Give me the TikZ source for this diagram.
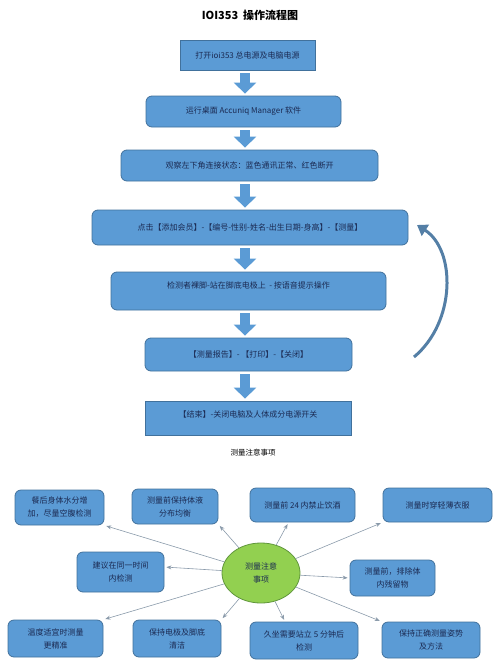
\documentclass[tikz,border=0pt]{standalone}
\usepackage{fontspec}
\setmainfont{Noto Sans CJK SC}
\usetikzlibrary{arrows.meta,shapes.geometric}

\definecolor{boxblue}{RGB}{91,155,213}
\definecolor{boxline}{RGB}{65,113,156}
\definecolor{boxtext}{RGB}{27,42,82}
\definecolor{noteline}{RGB}{138,154,170}
\definecolor{ovalgreen}{RGB}{146,208,80}
\definecolor{ovalline}{RGB}{96,150,60}

\tikzset{
  flowbox/.style={draw=boxline,fill=boxblue,line width=0.8pt,text=boxtext,
    font=\fontsize{8}{9}\selectfont,align=center,inner sep=2pt},
  roundbox/.style={flowbox,rounded corners=6pt},
  notebox/.style={roundbox,font=\fontsize{8}{13}\selectfont},
  downarrow/.style={draw=boxblue,line width=10pt,shorten <=3pt,shorten >=2pt,
    -{Triangle[width=22pt,length=11pt]}},
  notearrow/.style={noteline,line width=0.6pt,shorten >=2pt,-{Stealth[length=5pt,width=4pt]}}
}

\begin{document}
\begin{tikzpicture}[x=1pt,y=-1pt]
          \useasboundingbox (0,0) rectangle (500,672);
          \node[font=\bfseries\fontsize{11}{13}\selectfont] (title) at (250,15) {IOI353\ \ 操作流程图};
          % flow
          \node[flowbox,minimum width=135,minimum height=30] (open) at (247.5,55) {打开ioi353 总电源及电脑电源};
          \node[roundbox,minimum width=195,minimum height=31] (run) at (243.5,111.5) {运行桌面 Accuniq Manager 软件};
          \node[roundbox,minimum width=257,minimum height=31] (watch) at (249.5,165.5) {观察左下角连接状态：蓝色通讯正常、红色断开};
          \node[roundbox,minimum width=316,minimum height=35] (add) at (250,227.5) {点击【添加会员】-【编号-性别-姓名-出生日期-身高】-【测量】};
          \node[roundbox,minimum width=275,minimum height=38,text depth=12pt] (stand) at (248.5,291) {检测者裸脚-站在脚底电极上 \ - 按语音提示操作};
          \node[roundbox,minimum width=207,minimum height=33] (report) at (248.5,354.5) {【测量报告】- 【打印】-【关闭】};
          \node[flowbox,minimum width=206,minimum height=34,text depth=8pt] (finish) at (248,418) {【结束】-关闭电脑及人体成分电源开关};
          \draw[downarrow] (open.south -| 245,0) -- (run.north -| 245,0);
          \draw[downarrow] (run.south -| 245,0) -- (watch.north -| 245,0);
          \draw[downarrow] (watch.south -| 245,0) -- (add.north -| 245,0);
          \draw[downarrow] (add.south -| 245,0) -- (stand.north -| 245,0);
          \draw[downarrow] (stand.south -| 245,0) -- (report.north -| 245,0);
          \draw[downarrow] (report.south -| 245,0) -- (finish.north -| 245,0);
          % loop back
          \coordinate (loopstart) at (414,357);
          \coordinate (loopend) at (417,225);
          \draw[boxline!90,line width=3pt,-{Triangle[width=13pt,length=10pt]}]
            (loopstart) .. controls (456,322) and (456,250) .. (loopend);
          \node[font=\fontsize{7.5}{9}\selectfont] (notes) at (253,453) {测量注意事项};
          % notes
          \node[ellipse,draw=ovalline,fill=ovalgreen,line width=0.8pt,minimum width=78,minimum height=60,
            text=boxtext,align=center,font=\fontsize{8}{13}\selectfont] (el) at (261,573) {测量注意\\事项};
          \node[notebox,minimum width=89,minimum height=35] (n1) at (59.5,507.5) {餐后身体水分增\\加，尽量空腹检测};
          \node[notebox,minimum width=86,minimum height=35] (n2) at (175,506.5) {测量前保持体液\\分布均衡};
          \node[notebox,minimum width=105,minimum height=34] (n3) at (302.5,505) {测量前 24 内禁止饮酒};
          \node[notebox,minimum width=109,minimum height=34] (n4) at (437.5,505) {测量时穿轻薄衣服};
          \node[notebox,minimum width=87,minimum height=40] (n5) at (120.5,572) {建议在同一时间\\内检测};
          \node[notebox,minimum width=85,minimum height=36] (n6) at (392.5,578) {测量前，排除体\\内残留物};
          \node[notebox,minimum width=95,minimum height=37] (n7) at (55.5,638.5) {温度适宜时测量\\更精准};
          \node[notebox,minimum width=88,minimum height=37] (n8) at (177,638.5) {保持电极及脚底\\清洁};
          \node[notebox,minimum width=108,minimum height=37] (n9) at (304,640.5) {久坐需要站立 5 分钟后\\检测};
          \node[notebox,minimum width=98,minimum height=36] (n10) at (431,640) {保持正确测量姿势\\及方法};
          \draw[notearrow] (el) -- (n1.south east);
          \draw[notearrow] (el) -- (n2.south east);
          \draw[notearrow] (el) -- ([xshift=-14pt]n3.south);
          \draw[notearrow] (el) -- (n4.south west);
          \draw[notearrow] (el) -- ([yshift=5pt]n5.east);
          \draw[notearrow] (el) -- (n6.west);
          \draw[notearrow] (el) -- (n7.north east);
          \draw[notearrow] (el) -- (n8.north east);
          \draw[notearrow] (el) -- ([xshift=-19pt]n9.north);
          \draw[notearrow] (el) -- (n10.north west);
        \end{tikzpicture}
\end{document}
